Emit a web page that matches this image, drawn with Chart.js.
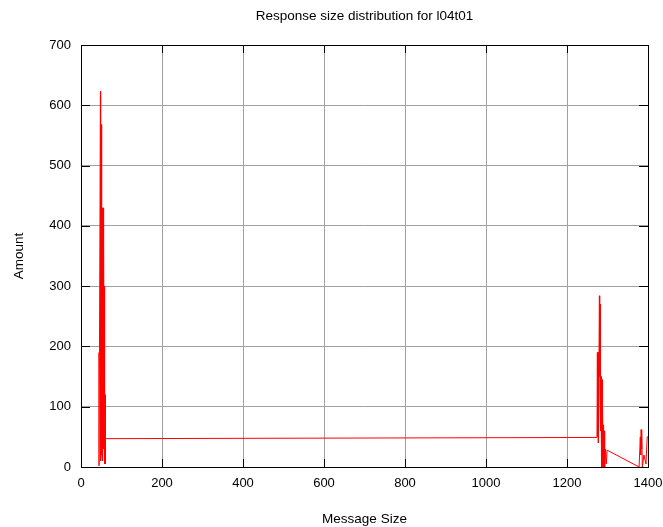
<!DOCTYPE html>
<html>
<head>
<meta charset="utf-8">
<script src="https://cdn.jsdelivr.net/npm/chart.js@4.4.1/dist/chart.umd.min.js"></script>
<style>
  html, body { margin: 0; padding: 0; background: #fff; }
  #wrap { width: 663px; height: 527px; }
</style>
</head>
<body>
<div id="wrap"><canvas id="chart" width="663" height="527"></canvas></div>
<script>
// Message sizes (x) and amounts (y)
const sizes = [
  44, 44.5, 48, 48.5, 50, 50.5, 51, 51.5, 52, 52.5, 53, 53.5, 54, 54.5, 55, 55.5,
  56, 56.5, 57, 57.5, 58, 58.5, 59, 59.5, 60, 61,
  1274, 1275, 1275.5, 1277, 1277.5, 1280, 1280.5, 1281, 1281.5, 1282, 1282.5, 1283,
  1283.5, 1284, 1284.5, 1285, 1285.5, 1286, 1286.5, 1287, 1287.5, 1288, 1289, 1290,
  1290.5, 1292, 1293, 1295, 1297, 1299,
  1378, 1381, 1382, 1383, 1384, 1385, 1386, 1390, 1395, 1398, 1400
];
const amounts = [
  190, 2, 623, 10, 568, 20, 150, 430, 20, 420, 60, 430, 10, 400, 100, 430,
  30, 380, 80, 300, 5, 200, 90, 120, 5, 47,
  49, 190, 50, 190, 40, 284, 150, 284, 120, 270, 200, 257,
  60, 150, 20, 145, 0, 130, 40, 145, 0, 110, 20, 70,
  0, 60, 0, 30, 5, 28,
  0, 50, 20, 62, 30, 60, 0, 20, 5, 50, 50
];
const xTicks = [0, 200, 400, 600, 800, 1000, 1200, 1400];
const yTicks = [0, 100, 200, 300, 400, 500, 600, 700];
const chartTitle = 'Response size distribution for l04t01';

const points = sizes.map((s, i) => ({ x: s, y: amounts[i] }));

const font = { family: 'Liberation Sans, Arial, sans-serif', size: 13 };

// gnuplot-like black frame with inward tick marks, title centred on the plot
const frame = {
  id: 'frame',
  afterDraw(chart) {
    const { ctx, chartArea: a, scales } = chart;
    ctx.save();
    ctx.strokeStyle = '#000';
    ctx.lineWidth = 1;
    ctx.beginPath();
    xTicks.forEach(v => {
      const px = Math.round(scales.x.getPixelForValue(v)) + 0.5;
      ctx.moveTo(px, a.bottom); ctx.lineTo(px, a.bottom - 8);
      ctx.moveTo(px, a.top); ctx.lineTo(px, a.top + 8);
    });
    yTicks.forEach(v => {
      const py = Math.round(scales.y.getPixelForValue(v)) + 0.5;
      ctx.moveTo(a.left, py); ctx.lineTo(a.left + 9, py);
      ctx.moveTo(a.right, py); ctx.lineTo(a.right - 9, py);
    });
    ctx.stroke();
    ctx.strokeRect(Math.round(a.left) + 0.5, Math.round(a.top) + 0.5,
      Math.round(a.right - a.left), Math.round(a.bottom - a.top));

    ctx.fillStyle = '#000';
    ctx.font = '13.5px ' + font.family;
    ctx.textAlign = 'center';
    ctx.textBaseline = 'middle';
    ctx.fillText(chartTitle, (a.left + a.right) / 2, 16);
    ctx.restore();
  }
};

new Chart(document.getElementById('chart'), {
  type: 'line',
  data: {
    datasets: [{
      label: 'Amount',
      data: points,
      borderColor: '#ff0000',
      borderWidth: 1,
      pointRadius: 0,
      tension: 0,
      fill: false
    }]
  },
  options: {
    responsive: false,
    animation: false,
    layout: { padding: { left: 0, right: 15, top: 45, bottom: 0 } },
    plugins: {
      legend: { display: false },
      tooltip: { enabled: false },
      title: { display: false }
    },
    scales: {
      x: {
        type: 'linear',
        min: 0,
        max: 1400,
        afterBuildTicks: s => { s.ticks = xTicks.map(v => ({ value: v })); },
        afterFit: s => { s.height = 60; s.paddingLeft = 0; s.paddingRight = 0; },
        ticks: { color: '#000', font, padding: 9, maxRotation: 0, callback: v => String(v) },
        grid: { color: '#a0a0a0', drawTicks: false },
        border: { display: false },
        title: {
          display: true,
          text: 'Message Size',
          color: '#000',
          font: { family: font.family, size: 13.5 },
          padding: { top: 14, bottom: 0 }
        }
      },
      y: {
        type: 'linear',
        min: 0,
        max: 700,
        afterBuildTicks: s => { s.ticks = yTicks.map(v => ({ value: v })); },
        afterFit: s => { s.width = 81; s.paddingTop = 0; s.paddingBottom = 0; },
        ticks: { color: '#000', font, padding: 10, callback: v => String(v) },
        grid: { color: '#a0a0a0', drawTicks: false },
        border: { display: false },
        title: {
          display: true,
          text: 'Amount',
          color: '#000',
          font: { family: font.family, size: 13.5 },
          padding: { top: 11, bottom: 0 }
        }
      }
    }
  },
  plugins: [frame]
});
</script>
</body>
</html>
